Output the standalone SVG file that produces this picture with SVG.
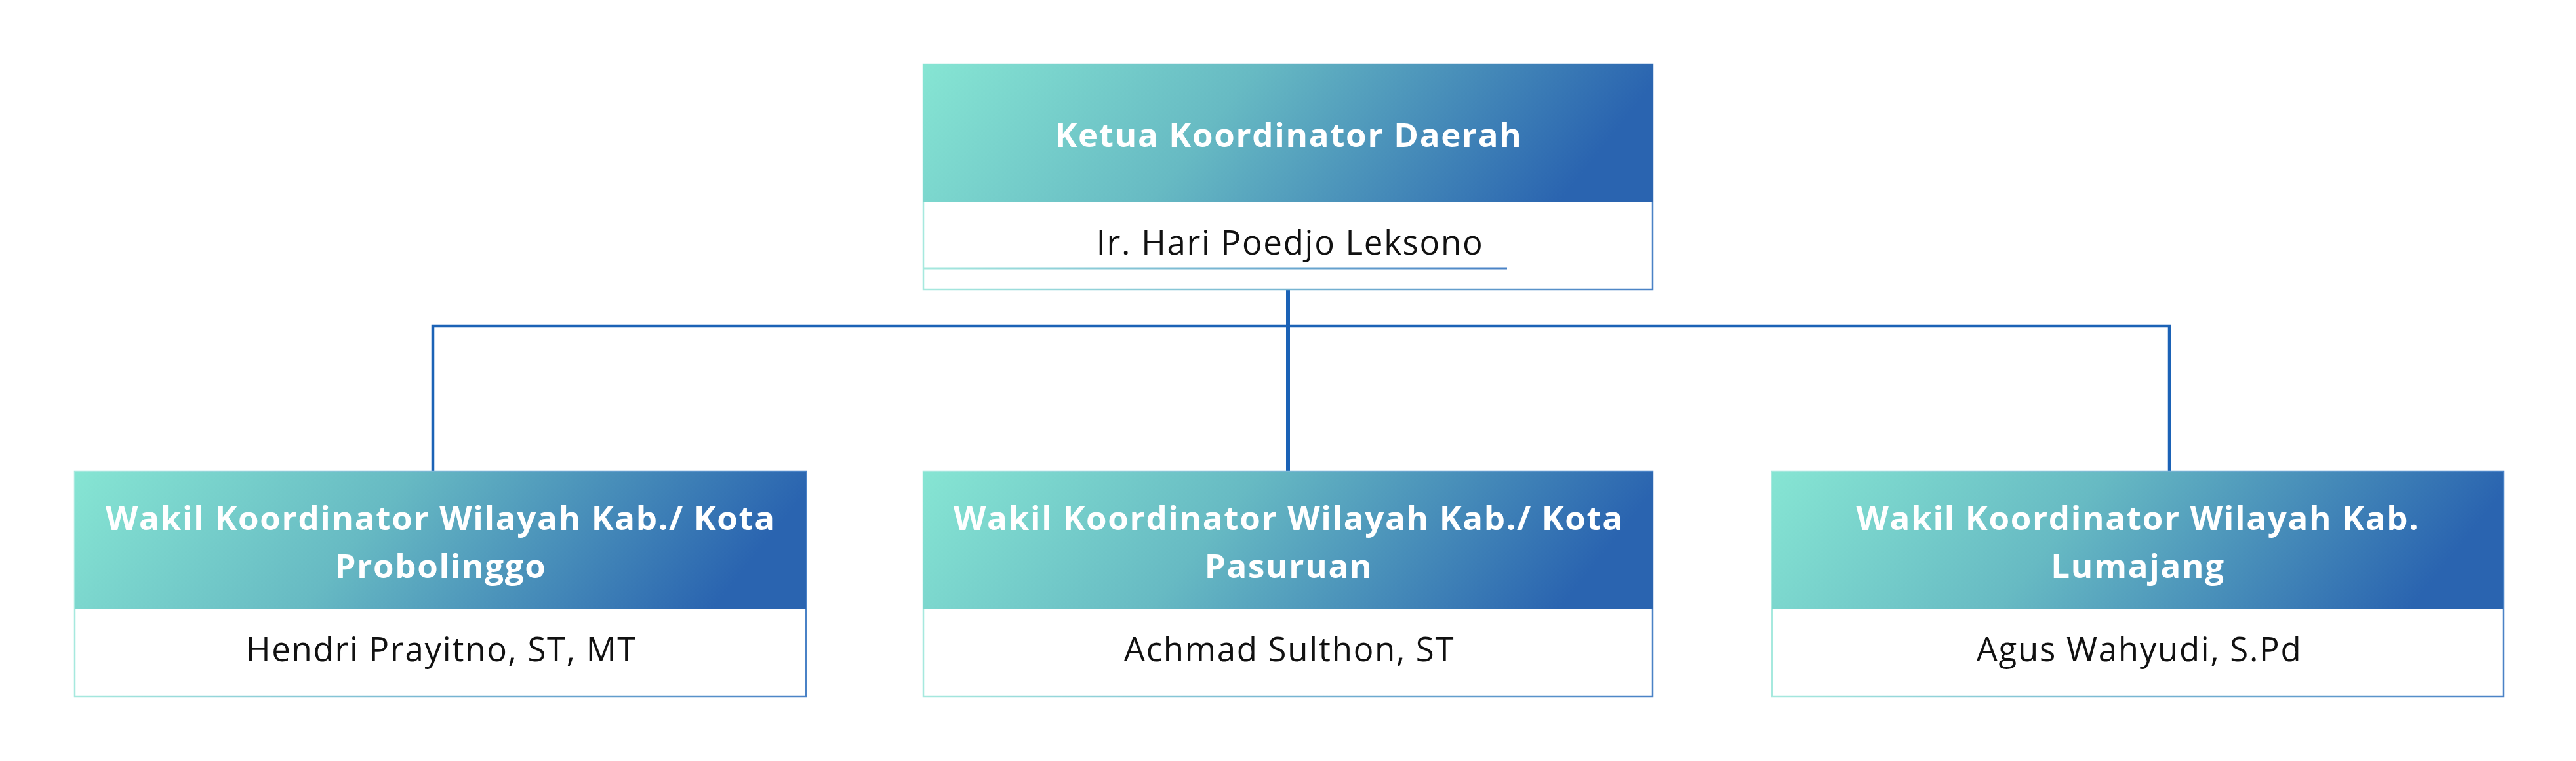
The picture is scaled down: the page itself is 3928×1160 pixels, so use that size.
<svg xmlns="http://www.w3.org/2000/svg" width="3928" height="1160" viewBox="0 0 3928 1160">
<defs>
<linearGradient id="hg" x1="0" y1="0" x2="1" y2="0.15">
<stop offset="0" stop-color="#86E5D3"/>
<stop offset="0.45" stop-color="#67BAC3"/>
<stop offset="1" stop-color="#2A64B0"/>
</linearGradient>
<linearGradient id="sg" x1="0" y1="0" x2="1" y2="0">
<stop offset="0" stop-color="#A6E9DE"/>
<stop offset="1" stop-color="#4A82C6"/>
</linearGradient>
<style>
.box{fill:#fff;stroke:url(#sg);stroke-width:2.5}
.hdr{fill:url(#hg)}
.t{font-family:"Open Sans","Noto Sans",sans-serif;font-weight:700;font-size:51px;letter-spacing:1.7px;fill:#fff;text-anchor:middle}
.n{font-family:"Open Sans","Noto Sans",sans-serif;font-weight:400;font-size:51px;letter-spacing:1.7px;fill:#111;text-anchor:middle}
.c{stroke:#1B62B6;fill:none;stroke-width:4.5}
</style>
</defs>
<rect width="3928" height="1160" fill="#fff"/>
<g id="connectors">
<line class="c" x1="1964" y1="441" x2="1964" y2="718" style="stroke-width:6"/>
<polyline class="c" points="660,718 660,497 3308,497 3308,718"/>
</g>
<g id="ketua">
<rect class="box" x="1408" y="98" width="1112" height="343"/>
<rect class="hdr" x="1408" y="98" width="1112" height="210"/>
<text class="t" x="1965" y="224">Ketua Koordinator Daerah</text>
<text class="n" x="1967" y="388">Ir. Hari Poedjo Leksono</text>
<rect x="1408" y="407.5" width="890" height="3" fill="url(#sg)"/>
</g>
<g id="wakil-probolinggo">
<rect class="box" x="114" y="719" width="1115" height="343"/>
<rect class="hdr" x="114" y="719" width="1115" height="209"/>
<text class="t" x="672" y="808">Wakil Koordinator Wilayah Kab./ Kota</text>
<text class="t" x="672" y="881">Probolinggo</text>
<text class="n" x="673" y="1008">Hendri Prayitno, ST, MT</text>
</g>
<g id="wakil-pasuruan">
<rect class="box" x="1408" y="719" width="1112" height="343"/>
<rect class="hdr" x="1408" y="719" width="1112" height="209"/>
<text class="t" x="1965" y="808">Wakil Koordinator Wilayah Kab./ Kota</text>
<text class="t" x="1965" y="881">Pasuruan</text>
<text class="n" x="1966" y="1008">Achmad Sulthon, ST</text>
</g>
<g id="wakil-lumajang">
<rect class="box" x="2702" y="719" width="1115" height="343"/>
<rect class="hdr" x="2702" y="719" width="1115" height="209"/>
<text class="t" x="3260" y="808">Wakil Koordinator Wilayah Kab.</text>
<text class="t" x="3260" y="881">Lumajang</text>
<text class="n" x="3262" y="1008">Agus Wahyudi, S.Pd</text>
</g>
</svg>
